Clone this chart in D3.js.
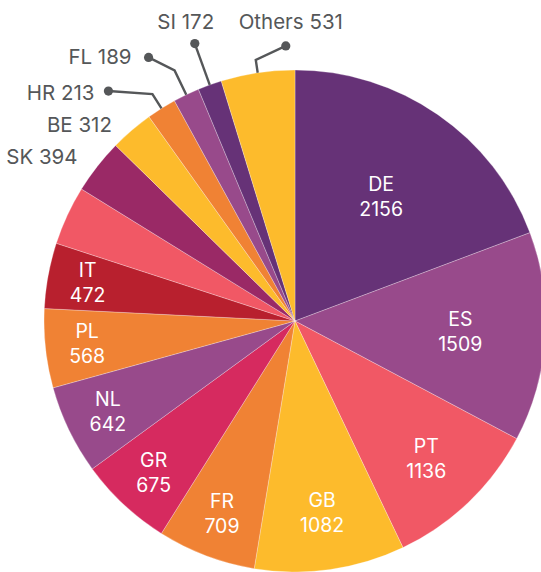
<!DOCTYPE html>
<html>
<head>
<meta charset="utf-8">
<script src="https://cdn.jsdelivr.net/npm/d3@7"></script>
<style>
  body { margin: 0; background: #fff; }
  text { font-family: Inter, "Open Sans", sans-serif; }
</style>
</head>
<body>
<script>
// slice names, clockwise from 12 o'clock ("" = slice drawn without a label)
var categories = ["DE", "ES", "PT", "GB", "FR", "GR", "NL", "PL", "IT", "", "SK", "BE", "HR", "FL", "SI", "Others"];
var values = [2156, 1509, 1136, 1082, 709, 675, 642, 568, 472, 425, 394, 312, 213, 189, 172, 531];

// which labels sit in the slice and which sit outside
var insideLabels = ["DE", "ES", "PT", "GB", "FR", "GR", "NL", "PL", "IT"];
var outsideLabels = ["SK", "BE", "HR", "FL", "SI", "Others"];

var sliceColors = ["#663277", "#984a8b", "#f15865", "#fdbb2c", "#f08234", "#d62a5f", "#984a8b", "#f08234",
                   "#b8202e", "#f15865", "#9a2966", "#fdbb2c", "#f08234", "#984a8b", "#663277", "#fdbb2c"];

// outside label layout: lead = radial leader length, dx/dy = dot offset from elbow, tx/ty = text offset
var outLayout = {
    SK:     {lead: 15, line: false, dx: 0,   dy: 0,   tx: -8,  ty: 7,   anchor: "end"},
    BE:     {lead: 15, line: false, dx: 0,   dy: 0,   tx: -10, ty: 13,  anchor: "end"},
    HR:     {lead: 17, line: true,  dx: -44, dy: -3,  tx: -14, ty: 9,   anchor: "end"},
    FL:     {lead: 27, line: true,  dx: -26, dy: -13, tx: -17, ty: 7,   anchor: "end"},
    SI:     {lead: 44, line: true,  dx: 0,   dy: 0,   tx: -9,  ty: -15, anchor: "middle"},
    Others: {lead: 13, line: true,  dx: 30,  dy: -14, tx: 5,   ty: -17, anchor: "middle"}
};

var w = 541;
var h = 572;
var R = 251;
var cx = 295, cy = 321;

var data = categories.map(function(c, i){ return {name: c, value: values[i]}; });

var svg = d3.select("body").append("svg")
    .attr("width", w).attr("height", h);

var g = svg.append("g").attr("transform", "translate(" + cx + "," + cy + ")");

var pie = d3.pie().sort(null).value(function(d){ return d.value; });
var arcs = pie(data);
var arc = d3.arc().innerRadius(0).outerRadius(R);

var color = d3.scaleOrdinal().domain(d3.range(data.length)).range(sliceColors);

g.selectAll("path.slice")
    .data(arcs)
    .enter()
    .append("path")
    .attr("class", "slice")
    .attr("d", arc)
    .attr("fill", function(d, i){ return color(i); })
    .attr("stroke", "#ffffff")
    .attr("stroke-opacity", 0.45)
    .attr("stroke-width", 0.6);

function pt(a, r){ return [r * Math.sin(a), -r * Math.cos(a)]; }
function mid(d){ return (d.startAngle + d.endAngle) / 2; }

// wider slices get their label pulled toward the centre
var labelR = d3.scaleLinear()
    .domain([15, 22, 35, 48, 70])
    .range([211, 207, 193, 166, 151])
    .clamp(true);

var inner = g.selectAll("text.inner")
    .data(arcs.filter(function(d){ return insideLabels.indexOf(d.data.name) >= 0; }))
    .enter()
    .append("text")
    .attr("class", "inner")
    .attr("text-anchor", "middle")
    .attr("fill", "#ffffff")
    .style("font-size", "19.5px")
    .attr("transform", function(d){
        var span = (d.endAngle - d.startAngle) * 180 / Math.PI;
        var p = pt(mid(d), labelR(span));
        return "translate(" + p[0] + "," + p[1] + ")";
    });

inner.append("tspan").attr("x", 0).attr("y", -5.5).text(function(d){ return d.data.name; });
inner.append("tspan").attr("x", 0).attr("y", 19.5).text(function(d){ return d.data.value; });

// outside labels with leader lines
var outer = arcs.filter(function(d){ return outsideLabels.indexOf(d.data.name) >= 0; });

outer.forEach(function(d){
    var L = outLayout[d.data.name];
    var a = mid(d);
    var p0 = pt(a, R);
    var p1 = pt(a, R + L.lead);
    var p2 = [p1[0] + L.dx, p1[1] + L.dy];
    if (L.line) {
        var pts = (L.dx === 0 && L.dy === 0) ? [p0, p1] : [p0, p1, p2];
        g.append("path")
            .attr("d", d3.line()(pts))
            .attr("fill", "none")
            .attr("stroke", "#555759")
            .attr("stroke-width", 2.4);
        g.append("circle")
            .attr("cx", p2[0]).attr("cy", p2[1])
            .attr("r", 4.6)
            .attr("fill", "#555759");
    }
    g.append("text")
        .attr("x", p2[0] + L.tx)
        .attr("y", p2[1] + L.ty)
        .attr("text-anchor", L.anchor)
        .attr("fill", "#555759")
        .style("font-size", "20.5px")
        .text(d.data.name + " " + d.data.value);
});
</script>
</body>
</html>
